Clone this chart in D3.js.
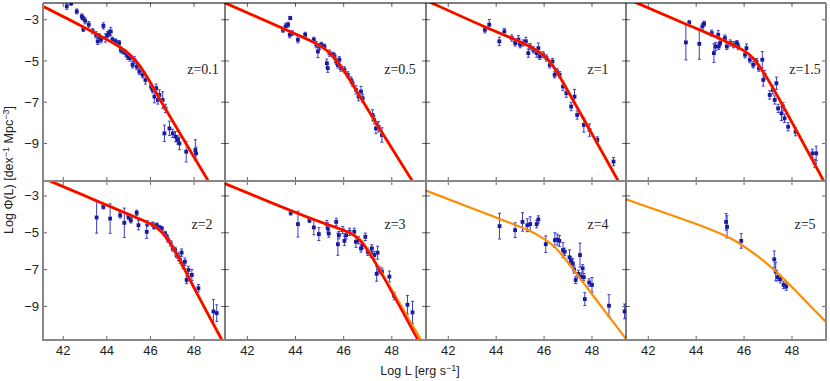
<!DOCTYPE html>
<html lang="en">
<head>
<meta charset="UTF-8">
<title>QLF by redshift</title>
<script src="https://d3js.org/d3.v7.min.js"></script>
<style>
  body { margin: 0; background: #fff; }
  svg { display: block; font-family: "Liberation Sans", Arial, sans-serif; }
  .zlab { font-family: "Liberation Serif", "Times New Roman", serif; font-size: 14px; fill: #222; }
  .tick-label { font-size: 13px; fill: #222; }
  .title { font-size: 12.5px; fill: #222; }
</style>
</head>
<body>
<svg width="830" height="381"></svg>
<script>
// one panel per redshift bin
const redshifts = ["0.1", "0.5", "1", "1.5", "2", "3", "4", "5"];
const xTicks = [42, 44, 46, 48];
const yTicks = [-3, -5, -7, -9];

// binned data: [log L, log Phi, error]
const z01Points = [[42.16,-2.35,0.15],[42.36,-2.2,0.1],[42.62,-2.6,0.12],[42.85,-2.84,0.12],[42.9,-2.92,0.1],[42.92,-3.45,0.12],[43.0,-3.05,0.15],[43.17,-3.24,0.15],[43.35,-3.56,0.12],[43.5,-3.73,0.15],[43.58,-4.05,0.15],[43.65,-3.8,0.12],[43.73,-3.97,0.15],[43.84,-3.3,0.15],[43.93,-3.89,0.2],[44.03,-3.73,0.15],[44.1,-3.65,0.15],[44.18,-3.57,0.2],[44.25,-3.97,0.12],[44.4,-4.05,0.12],[44.56,-4.13,0.12],[44.64,-4.46,0.15],[44.75,-4.54,0.12],[44.87,-4.62,0.15],[44.95,-4.78,0.15],[45.06,-4.86,0.15],[45.18,-5.19,0.15],[45.26,-4.94,0.15],[45.37,-5.27,0.15],[45.49,-5.51,0.15],[45.64,-5.67,0.15],[45.77,-5.92,0.2],[46.03,-6.24,0.15],[46.1,-6.4,0.15],[46.18,-6.73,0.3],[46.26,-6.32,0.2],[46.34,-6.89,0.2],[46.41,-6.65,0.25],[46.56,-6.89,0.4],[46.69,-7.3,0.2],[46.87,-8.27,0.35],[46.64,-8.51,0.4],[47.02,-8.51,0.2],[47.15,-8.67,0.25],[47.25,-8.83,0.2],[47.33,-9.0,0.3],[47.64,-9.4,0.5],[48.06,-9.32,0.5],[48.09,-9.48,0.3]];
const z05Points = [[43.48,-3.49,0.12],[43.59,-3.32,0.15],[43.69,-3.24,0.12],[43.78,-2.92,0.08],[43.76,-3.73,0.15],[43.86,-3.65,0.12],[44.1,-3.97,0.15],[44.4,-3.73,0.12],[44.76,-3.97,0.12],[44.86,-4.21,0.15],[44.93,-4.54,0.3],[45.0,-4.3,0.15],[45.07,-4.21,0.12],[45.2,-4.3,0.12],[45.3,-5.11,0.2],[45.34,-5.35,0.2],[45.41,-4.62,0.15],[45.55,-4.7,0.12],[45.62,-4.78,0.15],[45.69,-5.03,0.15],[45.76,-5.19,0.15],[45.82,-4.94,0.15],[45.89,-5.35,0.15],[46.03,-5.43,0.15],[46.17,-5.67,0.15],[46.3,-5.92,0.15],[46.37,-6.08,0.15],[46.51,-6.4,0.2],[46.62,-6.73,0.2],[46.72,-6.48,0.25],[46.79,-6.81,0.2],[47.2,-7.62,0.25],[47.27,-7.86,0.2],[47.34,-8.27,0.25],[47.45,-8.19,0.25],[47.59,-8.59,0.35]];
const z1Points = [[43.53,-3.49,0.15],[43.71,-3.24,0.25],[44.13,-4.05,0.2],[44.34,-3.57,0.15],[44.65,-3.89,0.15],[44.79,-4.13,0.15],[44.93,-3.97,0.2],[45.0,-4.21,0.15],[45.13,-4.13,0.15],[45.24,-4.05,0.2],[45.34,-4.62,0.2],[45.41,-4.3,0.15],[45.55,-4.46,0.15],[45.69,-4.62,0.2],[45.76,-4.38,0.25],[45.82,-4.78,0.15],[45.96,-4.7,0.15],[46.1,-4.86,0.15],[46.24,-5.19,0.15],[46.35,-5.03,0.15],[46.44,-5.67,0.15],[46.54,-5.51,0.15],[46.65,-5.67,0.15],[46.79,-6.24,0.2],[46.93,-6.56,0.2],[47.13,-7.21,0.2],[47.27,-6.73,0.35],[47.38,-7.62,0.2],[47.66,-8.1,0.35],[47.9,-8.35,0.3],[48.22,-8.83,0.15],[48.9,-9.88,0.2]];
const z15Points = [[43.57,-4.1,0.85],[43.71,-3.16,0.12],[44.13,-4.17,0.75],[44.26,-3.32,0.15],[44.33,-3.19,0.12],[44.65,-3.65,0.15],[44.74,-4.62,0.45],[44.81,-4.3,0.2],[44.92,-3.73,0.2],[44.94,-4.3,0.15],[45.0,-4.13,0.15],[45.2,-3.89,0.15],[45.28,-4.3,0.15],[45.42,-4.13,0.15],[45.56,-4.21,0.15],[45.7,-4.13,0.12],[45.76,-4.3,0.15],[46.04,-4.7,0.15],[46.1,-4.38,0.2],[46.24,-4.94,0.15],[46.38,-5.19,0.15],[46.52,-5.03,0.15],[46.62,-5.35,0.15],[46.76,-4.94,0.4],[46.8,-5.92,0.3],[46.86,-5.67,0.2],[47.07,-6.65,0.2],[47.2,-6.4,0.2],[47.35,-6.08,0.3],[47.28,-6.89,0.2],[47.42,-7.3,0.2],[47.56,-7.54,0.35],[47.63,-7.21,0.2],[47.69,-7.78,0.2],[47.84,-8.19,0.2],[48.15,-8.43,0.2],[48.85,-9.48,0.2],[48.95,-9.97,0.2],[49.01,-9.48,0.35]];
const z2Points = [[43.53,-4.17,0.85],[43.84,-3.59,0.12],[44.15,-4.23,0.8],[44.61,-4.05,0.15],[44.8,-4.46,0.8],[44.99,-4.14,0.15],[45.1,-4.32,0.15],[45.37,-3.92,0.15],[45.45,-4.59,0.25],[45.83,-4.95,0.35],[45.86,-4.5,0.15],[46.1,-4.54,0.12],[46.17,-4.68,0.12],[46.29,-4.59,0.12],[46.41,-4.72,0.12],[46.52,-4.77,0.12],[46.67,-5.04,0.12],[46.75,-5.22,0.12],[46.82,-5.4,0.12],[46.93,-5.58,0.15],[47.02,-5.85,0.15],[47.13,-5.94,0.15],[47.2,-6.21,0.15],[47.28,-6.3,0.2],[47.36,-6.48,0.2],[47.43,-6.08,0.2],[47.48,-6.75,0.2],[47.58,-6.57,0.2],[47.66,-7.56,0.2],[47.74,-7.02,0.2],[47.9,-7.29,0.3],[48.2,-8.01,0.2],[48.89,-9.27,0.65],[49.04,-9.36,0.45]];
const z3Points = [[43.8,-3.92,0.12],[44.1,-4.53,0.7],[44.58,-4.32,0.12],[44.76,-4.71,0.4],[44.97,-5.07,0.35],[45.3,-4.53,0.2],[45.34,-4.77,0.2],[45.38,-5.04,0.2],[45.69,-4.41,0.2],[45.76,-5.62,0.6],[45.8,-5.13,0.2],[45.96,-4.86,0.2],[46.03,-5.44,0.25],[46.1,-5.13,0.2],[46.24,-4.95,0.2],[46.44,-4.95,0.2],[46.51,-5.49,0.3],[46.62,-5.4,0.2],[46.72,-5.85,0.2],[46.79,-5.67,0.2],[46.9,-5.22,0.2],[47.0,-6.03,0.2],[47.13,-6.12,0.2],[47.17,-5.85,0.2],[47.27,-6.21,0.2],[47.37,-7.23,0.4],[47.41,-6.08,0.35],[47.48,-7.02,0.2],[47.59,-7.11,0.2],[47.9,-7.38,0.3],[48.1,-8.43,0.2],[48.65,-8.91,0.5],[48.86,-9.32,0.6]];
const z4Points = [[44.14,-4.64,0.7],[44.79,-4.86,0.4],[45.1,-4.41,0.5],[45.3,-4.59,0.35],[45.42,-4.53,0.4],[45.69,-4.53,0.2],[45.76,-4.28,0.2],[46.07,-5.62,0.45],[46.45,-5.4,0.4],[46.55,-5.37,0.3],[46.64,-5.44,0.3],[46.79,-5.94,0.4],[46.86,-6.03,0.2],[47.06,-6.33,0.4],[47.12,-6.51,0.2],[47.2,-6.66,0.25],[47.25,-6.99,0.2],[47.32,-7.56,0.2],[47.43,-7.23,0.2],[47.5,-6.21,0.65],[47.57,-7.38,0.2],[47.61,-6.93,0.2],[47.66,-7.41,0.2],[47.7,-8.6,0.35],[47.88,-7.7,0.2],[48.0,-7.83,0.4],[48.71,-8.96,0.6],[49.36,-9.27,0.4]];
const z5Points = [[45.25,-4.41,0.45],[45.29,-4.68,0.6],[45.88,-5.44,0.4],[47.26,-6.44,0.45],[47.32,-7.11,0.5],[47.4,-7.41,0.2],[47.51,-7.52,0.2],[47.65,-7.83,0.2],[47.76,-7.92,0.2]];

// model curves: [log L, log Phi]
const z01Red = [[40.9,-2.26],[41.07,-2.35],[42.5,-3.12],[43.5,-3.67],[44.3,-4.13],[44.9,-4.53],[45.3,-4.93],[45.7,-5.5],[46.1,-6.24],[46.44,-6.88],[47.05,-7.97],[47.96,-9.6],[48.58,-10.68],[49.2,-11.8]];
const z05Red = [[40.9,-2.1],[41.07,-2.19],[43.62,-3.49],[44.86,-4.13],[45.41,-4.54],[45.96,-5.35],[46.51,-6.4],[47.34,-8.01],[48.78,-10.68],[49.3,-11.65]];
const z1Red = [[40.9,-1.97],[41.07,-2.06],[43.6,-3.4],[45.0,-4.05],[45.69,-4.46],[46.25,-4.94],[46.81,-6.07],[47.36,-7.21],[49.03,-10.68],[49.4,-11.45]];
const z15Red = [[40.9,-1.87],[41.07,-1.96],[43.6,-3.24],[44.99,-3.89],[45.96,-4.46],[46.37,-4.78],[46.93,-5.75],[47.49,-6.88],[49.15,-10.44],[49.5,-11.2]];
const z2Red = [[40.9,-1.95],[41.07,-2.03],[43.5,-3.25],[45.3,-4.15],[45.83,-4.41],[46.2,-4.63],[46.5,-4.92],[46.9,-5.49],[47.51,-6.84],[48.12,-8.28],[49.27,-10.8],[49.5,-11.3]];
const z3Red = [[40.9,-2.24],[41.07,-2.33],[44.58,-4.22],[45.5,-4.63],[46.37,-5.03],[46.78,-5.49],[47.33,-6.65],[47.88,-7.92],[48.85,-10.26],[49.3,-11.35]];
const z3Orange = [[40.9,-2.24],[41.07,-2.33],[44.58,-4.22],[45.5,-4.63],[46.37,-5.03],[46.8,-5.47],[47.33,-6.62],[47.88,-7.86],[48.85,-10.05],[49.3,-11.05]];
const z4Orange = [[40.9,-2.63],[41.03,-2.69],[44.02,-4.19],[45.43,-4.87],[45.96,-5.3],[46.38,-5.66],[46.82,-6.3],[47.24,-7.02],[48.07,-8.46],[49.39,-10.71],[49.6,-11.05]];
const z5Orange = [[40.9,-3.12],[41.1,-3.19],[42.5,-3.83],[43.9,-4.47],[44.9,-4.97],[45.6,-5.38],[46.3,-6.0],[47.3,-7.0],[48.3,-8.35],[49.45,-9.88]];

const panelPoints = [z01Points, z05Points, z1Points, z15Points, z2Points, z3Points, z4Points, z5Points];
const redCurves = [z01Red, z05Red, z1Red, z15Red, z2Red, z3Red, null, null];
const orangeCurves = [z01Red, z05Red, z1Red, z15Red, z2Red, z3Orange, z4Orange, z5Orange];

// layout (the first column is narrower in the original figure)
const colEdges = [43, 225, 426, 626, 826];
const rowEdges = [3, 181, 340];
const xDomain = [41.07, 49.42];
const yDomain = [-10.82, -2.19];
const labelPos = [[203, 74], [400, 74], [598, 74], [805, 74], [202, 229], [395, 229], [598, 229], [805, 229]];

const svg = d3.select("svg");
const defs = svg.append("defs");
const fmt = d3.format("d");

redshifts.forEach((z, i) => {
  const col = i % 4, row = Math.floor(i / 4);
  const x = d3.scaleLinear().domain(xDomain).range([colEdges[col], colEdges[col + 1]]);
  const y = d3.scaleLinear().domain(yDomain).range([rowEdges[row + 1], rowEdges[row]]);
  const x0 = colEdges[col], x1 = colEdges[col + 1], y0 = rowEdges[row], y1 = rowEdges[row + 1];

  defs.append("clipPath").attr("id", "clip" + i)
    .append("rect").attr("x", x0).attr("y", y0).attr("width", x1 - x0).attr("height", y1 - y0);

  const g = svg.append("g");
  const inner = g.append("g").attr("clip-path", `url(#clip${i})`);

  // ticks pointing inward on all four sides
  const tickG = g.append("g").attr("stroke", "#666").attr("stroke-width", 1);
  xTicks.forEach(t => {
    tickG.append("line").attr("x1", x(t)).attr("x2", x(t)).attr("y1", y1).attr("y2", y1 - 4);
    tickG.append("line").attr("x1", x(t)).attr("x2", x(t)).attr("y1", y0).attr("y2", y0 + 4);
  });
  yTicks.forEach(t => {
    tickG.append("line").attr("y1", y(t)).attr("y2", y(t)).attr("x1", x0).attr("x2", x0 + 4);
    tickG.append("line").attr("y1", y(t)).attr("y2", y(t)).attr("x1", x1).attr("x2", x1 - 4);
  });

  const line = d3.line().x(d => x(d[0])).y(d => y(d[1])).curve(d3.curveBasis);

  // data: error bars then markers
  const pts = panelPoints[i];
  const eb = inner.append("g").attr("stroke", "#3c3cc8").attr("stroke-width", 1);
  pts.forEach(d => {
    const top = y(d[1] + d[2]), bot = y(d[1] - d[2]), cx = x(d[0]);
    eb.append("line").attr("x1", cx).attr("x2", cx).attr("y1", top).attr("y2", bot);
    eb.append("line").attr("x1", cx - 1.5).attr("x2", cx + 1.5).attr("y1", top).attr("y2", top);
    eb.append("line").attr("x1", cx - 1.5).attr("x2", cx + 1.5).attr("y1", bot).attr("y2", bot);
  });
  inner.append("g").selectAll("rect").data(pts).join("rect")
    .attr("x", d => x(d[0]) - 1.9).attr("y", d => y(d[1]) - 1.9)
    .attr("width", 3.8).attr("height", 3.8)
    .attr("fill", "#1a1aa0");

  if (orangeCurves[i]) {
    inner.append("path").datum(orangeCurves[i]).attr("d", line)
      .attr("fill", "none").attr("stroke", "#ff8c00").attr("stroke-width", redCurves[i] ? 3 : 2.2);
  }
  if (redCurves[i]) {
    inner.append("path").datum(redCurves[i]).attr("d", line)
      .attr("fill", "none").attr("stroke", "#ff0000").attr("stroke-width", 2.4);
  }

  g.append("text").attr("class", "zlab")
    .attr("x", labelPos[i][0]).attr("y", labelPos[i][1])
    .attr("text-anchor", "middle").text("z=" + z);

  if (col === 0) {
    g.append("g").selectAll("text").data(yTicks).join("text")
      .attr("class", "tick-label").attr("x", 39).attr("y", d => y(d)).attr("dy", "0.35em")
      .attr("text-anchor", "end").text(d => fmt(d));
  }
  if (row === 1) {
    g.append("g").selectAll("text").data(xTicks).join("text")
      .attr("class", "tick-label").attr("x", d => x(d)).attr("y", 355)
      .attr("text-anchor", "middle").text(d => d);
  }
});

// frame: black separators, grey outer edges
const frame = svg.append("g").attr("fill", "none");
frame.append("line").attr("x1", colEdges[0]).attr("x2", colEdges[4]).attr("y1", rowEdges[0]).attr("y2", rowEdges[0])
  .attr("stroke", "#000").attr("stroke-width", 1);
colEdges.slice(1, 4).forEach(cx => {
  frame.append("line").attr("x1", cx).attr("x2", cx).attr("y1", rowEdges[0]).attr("y2", rowEdges[2])
    .attr("stroke", "#000").attr("stroke-width", 1);
});
frame.append("line").attr("x1", colEdges[0]).attr("x2", colEdges[4]).attr("y1", rowEdges[1]).attr("y2", rowEdges[1])
  .attr("stroke", "#888").attr("stroke-width", 2);
frame.append("line").attr("x1", colEdges[0]).attr("x2", colEdges[4]).attr("y1", rowEdges[2]).attr("y2", rowEdges[2])
  .attr("stroke", "#888").attr("stroke-width", 2);
[colEdges[0], colEdges[4]].forEach(cx => {
  frame.append("line").attr("x1", cx).attr("x2", cx).attr("y1", rowEdges[0]).attr("y2", rowEdges[2] + 1)
    .attr("stroke", "#888").attr("stroke-width", 2);
});

// axis titles
const yt = svg.append("text").attr("class", "title")
  .attr("transform", "translate(13,170) rotate(-90)").attr("text-anchor", "middle");
yt.append("tspan").text("Log Φ(L) [dex");
yt.append("tspan").attr("dy", -4).attr("font-size", "9px").text("−1");
yt.append("tspan").attr("dy", 4).text(" Mpc");
yt.append("tspan").attr("dy", -4).attr("font-size", "9px").text("−3");
yt.append("tspan").attr("dy", 4).text("]");

const xt = svg.append("text").attr("class", "title")
  .attr("x", 420).attr("y", 375).attr("text-anchor", "middle");
xt.append("tspan").text("Log L [erg s");
xt.append("tspan").attr("dy", -4).attr("font-size", "9px").text("−1");
xt.append("tspan").attr("dy", 4).text("]");
</script>
</body>
</html>
